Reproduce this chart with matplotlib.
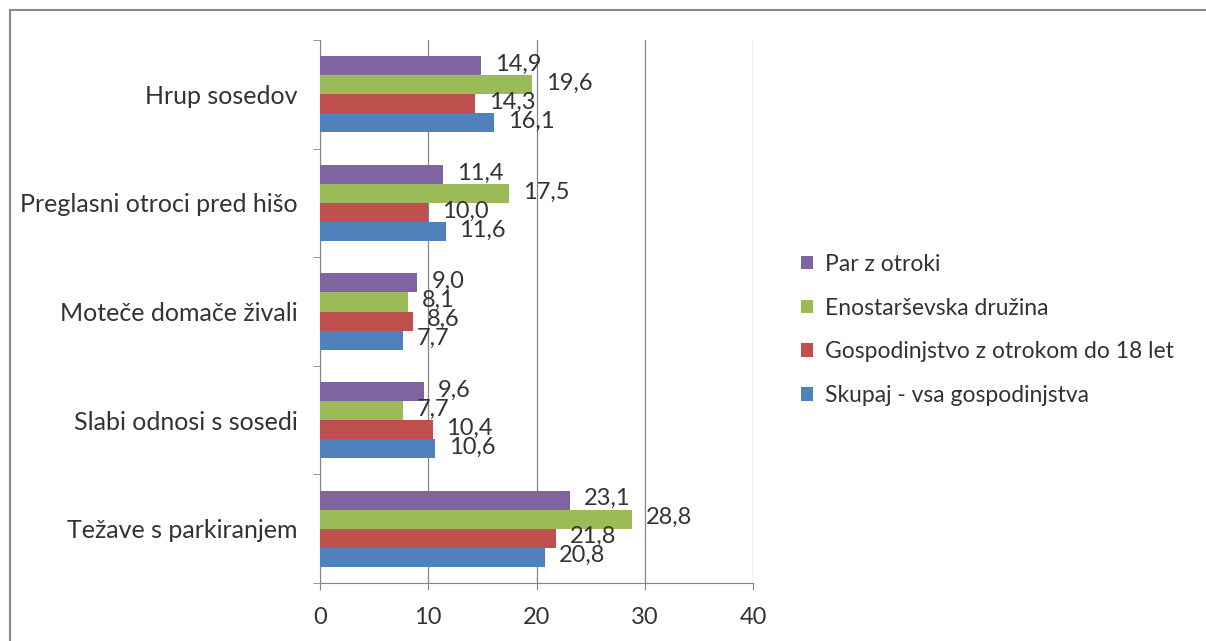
import numpy as np
import matplotlib.pyplot as plt
from matplotlib.patches import Rectangle, Patch

categories = ["Težave s parkiranjem", "Slabi odnosi s sosedi", "Moteče domače živali",
              "Preglasni otroci pred hišo", "Hrup sosedov"]
series_names = ["Skupaj - vsa gospodinjstva", "Gospodinjstvo z otrokom do 18 let",
                "Enostarševska družina", "Par z otroki"]
skupaj = [20.8, 10.6, 7.7, 11.6, 16.1]
gospodinjstvo = [21.8, 10.4, 8.6, 10.0, 14.3]
enostarsevska = [28.8, 7.7, 8.1, 17.5, 19.6]
par = [23.1, 9.6, 9.0, 11.4, 14.9]
x_ticks = [0, 10, 20, 30, 40]

colors = ["#4F81BD", "#C0504D", "#9BBB59", "#8064A2"]
text_color = "#333333"
plt.rcParams['font.family'] = ['Lato', 'DejaVu Sans']

fig = plt.figure(figsize=(12.06, 6.41), dpi=100)
fig.patches.append(Rectangle((10 / 1206, -0.1), 1.2, 1 - 10 / 641 + 0.1,
                             transform=fig.transFigure, fill=False,
                             edgecolor="#8a8a8a", linewidth=1.5))
ax = fig.add_axes([320 / 1206, 1 - 583 / 641, (753 - 320) / 1206, (583 - 40) / 641])

y = np.arange(len(categories))
h = 0.175
all_series = [skupaj, gospodinjstvo, enostarsevska, par]
for i, (vals, name, c) in enumerate(zip(all_series, series_names, colors)):
    pos = y + (i - 1.5) * h
    ax.barh(pos, vals, height=h, color=c, label=name, zorder=3)
    for p, v in zip(pos, vals):
        ax.annotate(f"{v:.1f}".replace(".", ","), (v, p), xytext=(10, 1),
                    textcoords="offset points", va="center", ha="left",
                    fontsize=17, color=text_color, zorder=4)

ax.set_xlim(0, 40)
ax.set_ylim(-0.5, len(categories) - 0.5)
ax.set_xticks(x_ticks)
ax.set_xticklabels([str(t) for t in x_ticks], fontsize=17, color=text_color)
ax.set_yticks(y)
ax.set_yticklabels(categories, fontsize=18, color=text_color)
ax.set_yticks(np.arange(len(categories) + 1) - 0.5, minor=True)
ax.tick_params(axis="y", which="major", length=0, pad=16)
ax.tick_params(axis="y", which="minor", length=5, color="#868686")
ax.tick_params(axis="x", which="major", length=5, color="#868686", pad=12)
ax.grid(axis="x", color="#868686", linewidth=0.9, zorder=0)
for s in ["top", "right"]:
    ax.spines[s].set_visible(False)
for s in ["left", "bottom"]:
    ax.spines[s].set_color("#868686")

handles = [Patch(facecolor=c, edgecolor="none") for c in colors[::-1]]
fig.legend(handles, series_names[::-1], loc="upper left",
           bbox_to_anchor=(780 / 1206, 1 - 233 / 641), frameon=False,
           fontsize=16.5, labelcolor=text_color, handlelength=0.55, handleheight=0.55,
           handletextpad=0.5, labelspacing=1.0)

fig.savefig("out.png", dpi=100)
